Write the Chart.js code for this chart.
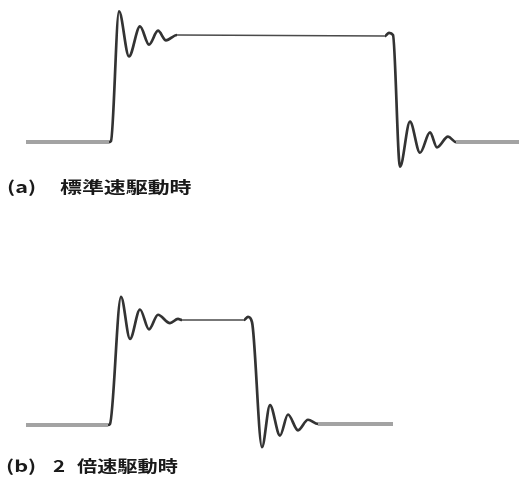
<!DOCTYPE html>
<html>
<head>
<meta charset="utf-8">
<script src="https://cdn.jsdelivr.net/npm/chart.js@4"></script>
<style>
  html, body { margin: 0; padding: 0; background: #fff; }
  #wrap { position: relative; width: 519px; height: 481px; overflow: hidden; }
  canvas { position: absolute; left: 0; }
  #cvA { top: 0; }
  #cvB { top: 270px; }
  .lbl {
    position: absolute; white-space: nowrap; color: #1a1a1a;
    font-family: "Noto Sans CJK JP", "Noto Sans", sans-serif; font-weight: 700;
    font-size: 16px; line-height: 18px; transform-origin: 0 50%; transform: scaleX(1.28);
  }
</style>
</head>
<body>
<div id="wrap">
  <canvas id="cvA" width="519" height="175"></canvas>
  <canvas id="cvB" width="519" height="190"></canvas>
  <div class="lbl" style="left:7px;top:177px;transform:scaleX(1.35);">(a)</div>
  <div class="lbl" style="left:60px;top:177px;transform:scaleX(1.37);">標準速駆動時</div>
  <div class="lbl" style="left:6px;top:456px;transform:scaleX(1.35);">(b)</div>
  <div class="lbl" style="left:53px;top:456px;">2</div>
  <div class="lbl" style="left:77px;top:456px;transform:scaleX(1.26);">倍速駆動時</div>
</div>
<script>
// Panel (a): standard-speed drive — time (ns) and normalised level
const stdTime  = [0, 16.6, 17.0, 18.6, 20.6, 22.8, 24.6, 26.4, 28.0, 30.2, 71.8, 72.6, 73.4, 74.8, 76.8, 78.8, 80.8, 82.2, 84.4, 86.0, 98.6];
const stdLevel = [0, 0,    0.01, 1.22, 0.80, 1.08, 0.91, 1.04, 0.95, 1.00, 0.99, 1.02, 1.00, -0.23, 0.19, -0.10, 0.09, -0.05, 0.05, 0, 0];

// Panel (b): double-speed drive
const dblTime  = [0, 16.4, 16.8, 19.0, 20.8, 22.8, 24.6, 26.4, 28.8, 30.4, 31.2, 43.6, 44.4, 45.2, 47.2, 48.8, 50.8, 52.4, 54.4, 56.4, 58.4, 73.4];
const dblLevel = [0, 0,    0.01, 1.22, 0.82, 1.10, 0.91, 1.05, 0.97, 1.01, 1.00, 1.00, 1.03, 0.98, -0.21, 0.19, -0.10, 0.10, -0.05, 0.05, 0.01, 0.01];

const timeRange = { min: -5.2, max: 98.6 };

function points(ts, vs) { return ts.map((t, i) => ({ x: t, y: vs[i] })); }

// long flat runs: idle level drawn as a broad grey trace, high level as a fine line
function segWidth(ctx) {
  const dx = ctx.p1.parsed.x - ctx.p0.parsed.x;
  const y0 = ctx.p0.parsed.y, y1 = ctx.p1.parsed.y;
  if (dx > 8 && Math.abs(y0) < 0.02 && Math.abs(y1) < 0.02) return 4;
  if (dx > 8) return 1.4;
  return 2.7;
}
function segColor(ctx) {
  const dx = ctx.p1.parsed.x - ctx.p0.parsed.x;
  const y0 = ctx.p0.parsed.y, y1 = ctx.p1.parsed.y;
  if (dx > 8 && Math.abs(y0) < 0.02 && Math.abs(y1) < 0.02) return '#a3a3a3';
  if (dx > 8) return '#4a4a4a';
  return '#333333';
}

function waveChart(id, ts, vs, yMin, yMax) {
  return new Chart(document.getElementById(id), {
    type: 'line',
    data: {
      datasets: [{
        data: points(ts, vs),
        borderColor: '#333333',
        borderWidth: 2.7,
        pointRadius: 0,
        cubicInterpolationMode: 'monotone',
        fill: false,
        clip: false,
        segment: { borderWidth: segWidth, borderColor: segColor }
      }]
    },
    options: {
      responsive: false,
      animation: false,
      devicePixelRatio: 1,
      layout: { padding: 0 },
      plugins: { legend: { display: false }, tooltip: { enabled: false } },
      scales: {
        x: { type: 'linear', min: timeRange.min, max: timeRange.max, display: false },
        y: { type: 'linear', min: yMin, max: yMax, display: false }
      }
    }
  });
}

waveChart('cvA', stdTime, stdLevel, -0.308, 1.327);
waveChart('cvB', dblTime, dblLevel, -0.333, 1.476);
</script>
</body>
</html>
